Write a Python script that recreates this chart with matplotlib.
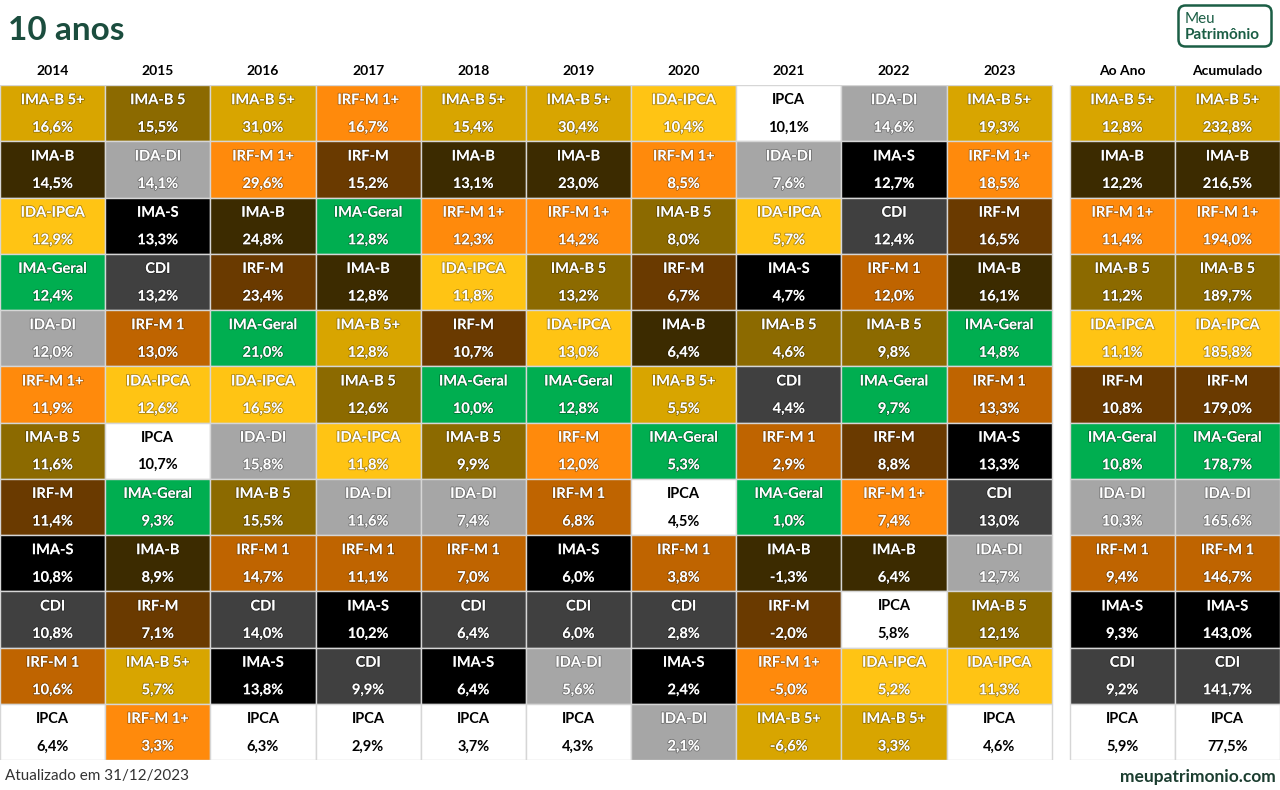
import matplotlib
matplotlib.use('Agg')
import matplotlib.pyplot as plt
import matplotlib.patheffects as pe
from matplotlib.patches import Rectangle, FancyBboxPatch

plt.rcParams['font.family'] = ['Lato', 'DejaVu Sans']

# rótulos das colunas
colunas = ['2014', '2015', '2016', '2017', '2018', '2019', '2020',
           '2021', '2022', '2023', 'Ao Ano', 'Acumulado']

# índices e retornos (%) por coluna, do maior para o menor
ind_2014 = ['IMA-B 5+', 'IMA-B', 'IDA-IPCA', 'IMA-Geral', 'IDA-DI', 'IRF-M 1+',
            'IMA-B 5', 'IRF-M', 'IMA-S', 'CDI', 'IRF-M 1', 'IPCA']
ret_2014 = [16.6, 14.5, 12.9, 12.4, 12.0, 11.9, 11.6, 11.4, 10.8, 10.8, 10.6, 6.4]

ind_2015 = ['IMA-B 5', 'IDA-DI', 'IMA-S', 'CDI', 'IRF-M 1', 'IDA-IPCA',
            'IPCA', 'IMA-Geral', 'IMA-B', 'IRF-M', 'IMA-B 5+', 'IRF-M 1+']
ret_2015 = [15.5, 14.1, 13.3, 13.2, 13.0, 12.6, 10.7, 9.3, 8.9, 7.1, 5.7, 3.3]

ind_2016 = ['IMA-B 5+', 'IRF-M 1+', 'IMA-B', 'IRF-M', 'IMA-Geral', 'IDA-IPCA',
            'IDA-DI', 'IMA-B 5', 'IRF-M 1', 'CDI', 'IMA-S', 'IPCA']
ret_2016 = [31.0, 29.6, 24.8, 23.4, 21.0, 16.5, 15.8, 15.5, 14.7, 14.0, 13.8, 6.3]

ind_2017 = ['IRF-M 1+', 'IRF-M', 'IMA-Geral', 'IMA-B', 'IMA-B 5+', 'IMA-B 5',
            'IDA-IPCA', 'IDA-DI', 'IRF-M 1', 'IMA-S', 'CDI', 'IPCA']
ret_2017 = [16.7, 15.2, 12.8, 12.8, 12.8, 12.6, 11.8, 11.6, 11.1, 10.2, 9.9, 2.9]

ind_2018 = ['IMA-B 5+', 'IMA-B', 'IRF-M 1+', 'IDA-IPCA', 'IRF-M', 'IMA-Geral',
            'IMA-B 5', 'IDA-DI', 'IRF-M 1', 'CDI', 'IMA-S', 'IPCA']
ret_2018 = [15.4, 13.1, 12.3, 11.8, 10.7, 10.0, 9.9, 7.4, 7.0, 6.4, 6.4, 3.7]

ind_2019 = ['IMA-B 5+', 'IMA-B', 'IRF-M 1+', 'IMA-B 5', 'IDA-IPCA', 'IMA-Geral',
            'IRF-M', 'IRF-M 1', 'IMA-S', 'CDI', 'IDA-DI', 'IPCA']
ret_2019 = [30.4, 23.0, 14.2, 13.2, 13.0, 12.8, 12.0, 6.8, 6.0, 6.0, 5.6, 4.3]

ind_2020 = ['IDA-IPCA', 'IRF-M 1+', 'IMA-B 5', 'IRF-M', 'IMA-B', 'IMA-B 5+',
            'IMA-Geral', 'IPCA', 'IRF-M 1', 'CDI', 'IMA-S', 'IDA-DI']
ret_2020 = [10.4, 8.5, 8.0, 6.7, 6.4, 5.5, 5.3, 4.5, 3.8, 2.8, 2.4, 2.1]

ind_2021 = ['IPCA', 'IDA-DI', 'IDA-IPCA', 'IMA-S', 'IMA-B 5', 'CDI',
            'IRF-M 1', 'IMA-Geral', 'IMA-B', 'IRF-M', 'IRF-M 1+', 'IMA-B 5+']
ret_2021 = [10.1, 7.6, 5.7, 4.7, 4.6, 4.4, 2.9, 1.0, -1.3, -2.0, -5.0, -6.6]

ind_2022 = ['IDA-DI', 'IMA-S', 'CDI', 'IRF-M 1', 'IMA-B 5', 'IMA-Geral',
            'IRF-M', 'IRF-M 1+', 'IMA-B', 'IPCA', 'IDA-IPCA', 'IMA-B 5+']
ret_2022 = [14.6, 12.7, 12.4, 12.0, 9.8, 9.7, 8.8, 7.4, 6.4, 5.8, 5.2, 3.3]

ind_2023 = ['IMA-B 5+', 'IRF-M 1+', 'IRF-M', 'IMA-B', 'IMA-Geral', 'IRF-M 1',
            'IMA-S', 'CDI', 'IDA-DI', 'IMA-B 5', 'IDA-IPCA', 'IPCA']
ret_2023 = [19.3, 18.5, 16.5, 16.1, 14.8, 13.3, 13.3, 13.0, 12.7, 12.1, 11.3, 4.6]

ind_ano = ['IMA-B 5+', 'IMA-B', 'IRF-M 1+', 'IMA-B 5', 'IDA-IPCA', 'IRF-M',
           'IMA-Geral', 'IDA-DI', 'IRF-M 1', 'IMA-S', 'CDI', 'IPCA']
ret_ano = [12.8, 12.2, 11.4, 11.2, 11.1, 10.8, 10.8, 10.3, 9.4, 9.3, 9.2, 5.9]

ind_acum = ind_ano
ret_acum = [232.8, 216.5, 194.0, 189.7, 185.8, 179.0, 178.7, 165.6, 146.7,
            143.0, 141.7, 77.5]

indices = [ind_2014, ind_2015, ind_2016, ind_2017, ind_2018, ind_2019,
           ind_2020, ind_2021, ind_2022, ind_2023, ind_ano, ind_acum]
retornos = [ret_2014, ret_2015, ret_2016, ret_2017, ret_2018, ret_2019,
            ret_2020, ret_2021, ret_2022, ret_2023, ret_ano, ret_acum]

# cor de cada índice
cores = {
    'IMA-B 5+': '#D8A500',
    'IMA-B 5': '#8C6A00',
    'IMA-B': '#3C2B00',
    'IDA-IPCA': '#FFC414',
    'IMA-Geral': '#00AE50',
    'IDA-DI': '#A6A6A6',
    'IRF-M 1+': '#FF8A0C',
    'IRF-M': '#6A3A00',
    'IMA-S': '#000000',
    'CDI': '#404040',
    'IRF-M 1': '#BF6400',
    'IPCA': '#FFFFFF',
}
# no original o IRF-M de 2019 aparece em laranja
cor_excecao = {('2019', 'IRF-M'): '#FF8A0C'}

verde = '#1B4D3E'
W, H = 1280, 790
fig = plt.figure(figsize=(W / 100, H / 100), dpi=100)

gap = 0.17
n_lin = len(ind_2014)
x_col = [i if i < 10 else i + gap for i in range(len(colunas))]
larg_total = len(colunas) + gap

ax = fig.add_axes([0, 1 - 760 / H, 1, (760 - 85) / H])
ax.set_xlim(0, larg_total)
ax.set_ylim(n_lin, 0)
ax.axis('off')

contorno = [pe.withStroke(linewidth=1.3, foreground=(0, 0, 0, 0.3))]

for x, rot, nomes, vals in zip(x_col, colunas, indices, retornos):
    ax.text(x + 0.5, -0.25, rot, ha='center', va='center', fontsize=10,
            fontweight='bold', color='black', clip_on=False)
    for r, (nome, v) in enumerate(zip(nomes, vals)):
        cor = cor_excecao.get((rot, nome), cores[nome])
        ax.add_patch(Rectangle((x, r), 1, 1, facecolor=cor,
                               edgecolor='#D6D6D6', linewidth=1))
        if nome == 'IPCA':
            tc, ef = 'black', None
        else:
            tc, ef = 'white', contorno
        txt = f'{v:.1f}'.replace('.', ',') + '%'
        ax.text(x + 0.5, r + 0.27, nome, ha='center', va='center',
                fontsize=10.5, fontweight='bold', color=tc, path_effects=ef)
        ax.text(x + 0.5, r + 0.76, txt, ha='center', va='center',
                fontsize=10.5, fontweight='bold', color=tc, path_effects=ef)

# título
fig.text(8 / W, 1 - 31 / H, '10 anos', fontsize=24, fontweight='bold',
         color=verde, ha='left', va='center')

# logo
lg = fig.add_axes([1177 / W, 1 - 48 / H, 96 / W, 44 / H])
lg.set_xlim(0, 96)
lg.set_ylim(0, 44)
lg.axis('off')
lg.add_patch(FancyBboxPatch((1.5, 1.5), 93, 41,
                            boxstyle='round,pad=0,rounding_size=7',
                            facecolor='white', edgecolor='#1B5E45', linewidth=1.8))
lg.text(8, 29, 'Meu', fontsize=11, color='#1B5E45', ha='left', va='center')
lg.text(8, 13, 'Patrimônio', fontsize=11, fontweight='bold', color='#1B5E45',
        ha='left', va='center')

# rodapé
fig.text(5 / W, 1 - 776 / H, 'Atualizado em 31/12/2023', fontsize=11,
         color='#333333', ha='left', va='center')
fig.text(1276 / W, 1 - 777 / H, 'meupatrimonio.com', fontsize=12.5,
         fontweight='bold', color='#1B3D2F', ha='right', va='center')

fig.savefig('out.png', dpi=100, facecolor='white')
